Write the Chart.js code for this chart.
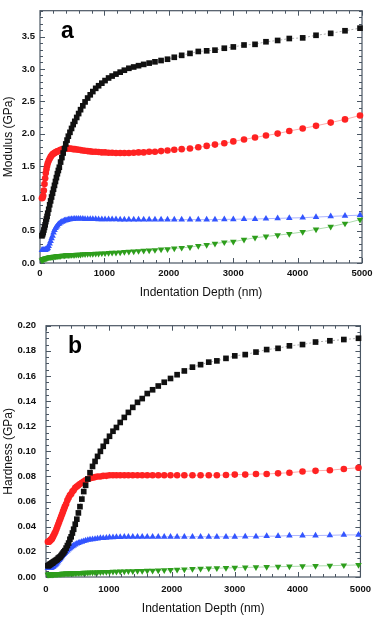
<!DOCTYPE html>
<html>
<head>
<meta charset="utf-8">
<script src="https://cdn.jsdelivr.net/npm/chart.js@4.4.1/dist/chart.umd.min.js"></script>
<style>
  html, body { margin: 0; padding: 0; background: #fff; }
  #wrapA { position: absolute; left: 0; top: 0; width: 378px; height: 310px; }
  #wrapB { position: absolute; left: 0; top: 310px; width: 378px; height: 307px; }
</style>
</head>
<body>
<div id="wrapA"><canvas id="chartA" width="378" height="310"></canvas></div>
<div id="wrapB"><canvas id="chartB" width="378" height="307"></canvas></div>
<script>
// ---- Data ----
const depth = [30,40,50,60,70,80,90,100,110,120,
  135,150,165,180,195,210,225,240,255,270,
  285,300,320,340,360,380,400,420,440,465,
  490,515,540,570,600,630,665,700,740,780,
  820,865,910,960,1010,1065,1120,1180,1245,1310,
  1380,1455,1530,1610,1695,1785,1880,1980,2085,2200,
  2329,2458,2588,2717,2862,3002,3168,3339,3509,3690,
  3871,4079,4286,4514,4736,4969];

const modulusBlack = [0.42,0.44,0.47,0.51,0.55,0.59,0.64,0.68,0.72,0.77,
  0.83,0.90,0.96,1.02,1.08,1.14,1.20,1.26,1.32,1.38,
  1.43,1.48,1.56,1.63,1.70,1.77,1.84,1.90,1.96,2.02,
  2.08,2.14,2.19,2.25,2.31,2.37,2.43,2.49,2.55,2.60,
  2.65,2.70,2.74,2.78,2.82,2.86,2.89,2.92,2.95,2.98,
  3.01,3.03,3.05,3.07,3.09,3.11,3.13,3.15,3.18,3.21,
  3.24,3.27,3.28,3.29,3.32,3.34,3.37,3.38,3.42,3.44,
  3.47,3.48,3.52,3.55,3.59,3.63];

const modulusRed = [1.00,1.01,1.04,1.12,1.22,1.31,1.39,1.45,1.50,1.54,
  1.58,1.61,1.64,1.66,1.68,1.69,1.70,1.71,1.72,1.725,
  1.73,1.74,1.75,1.755,1.76,1.765,1.77,1.77,1.77,1.77,
  1.765,1.76,1.76,1.755,1.75,1.745,1.74,1.735,1.73,1.725,
  1.72,1.72,1.715,1.71,1.71,1.705,1.705,1.70,1.70,1.70,
  1.70,1.705,1.71,1.71,1.72,1.72,1.73,1.74,1.75,1.76,
  1.77,1.79,1.81,1.83,1.85,1.88,1.91,1.94,1.97,2.00,
  2.04,2.08,2.12,2.17,2.22,2.28];

const modulusBlue = [0.20,0.20,0.20,0.20,0.20,0.20,0.21,0.21,0.22,0.23,
  0.26,0.30,0.34,0.38,0.42,0.47,0.51,0.54,0.56,0.58,
  0.60,0.61,0.625,0.635,0.645,0.655,0.66,0.665,0.67,0.675,
  0.68,0.68,0.685,0.685,0.685,0.685,0.685,0.68,0.68,0.68,
  0.68,0.68,0.675,0.675,0.675,0.675,0.675,0.675,0.67,0.67,
  0.67,0.67,0.67,0.67,0.67,0.67,0.67,0.67,0.67,0.67,
  0.67,0.67,0.67,0.67,0.675,0.675,0.68,0.68,0.685,0.69,
  0.695,0.70,0.71,0.72,0.73,0.74];

const modulusGreen = [0.04,0.05,0.055,0.06,0.065,0.07,0.07,0.075,0.08,0.08,
  0.085,0.09,0.09,0.095,0.095,0.10,0.10,0.10,0.105,0.105,
  0.11,0.11,0.11,0.115,0.115,0.115,0.12,0.12,0.12,0.12,
  0.125,0.125,0.125,0.13,0.13,0.13,0.135,0.135,0.14,0.14,
  0.14,0.145,0.145,0.15,0.15,0.155,0.16,0.16,0.165,0.17,
  0.175,0.18,0.185,0.19,0.195,0.20,0.21,0.215,0.225,0.235,
  0.245,0.265,0.28,0.30,0.32,0.33,0.36,0.39,0.41,0.43,
  0.45,0.48,0.52,0.56,0.61,0.67];

const hardnessBlack = [0.009,0.009,0.0095,0.010,0.010,0.0105,0.011,0.011,0.0115,0.012,
  0.0125,0.013,0.0135,0.014,0.015,0.0155,0.016,0.017,0.018,0.019,
  0.020,0.021,0.023,0.025,0.027,0.030,0.032,0.035,0.038,0.042,
  0.046,0.051,0.056,0.062,0.068,0.073,0.078,0.083,0.088,0.092,
  0.096,0.100,0.104,0.108,0.112,0.116,0.119,0.123,0.127,0.131,
  0.135,0.139,0.142,0.146,0.149,0.152,0.155,0.158,0.161,0.164,
  0.167,0.169,0.171,0.172,0.174,0.176,0.177,0.179,0.181,0.182,
  0.184,0.185,0.187,0.188,0.189,0.190];

const hardnessRed = [0.028,0.028,0.028,0.029,0.029,0.030,0.030,0.031,0.032,0.033,
  0.0345,0.036,0.038,0.040,0.042,0.044,0.046,0.048,0.050,0.052,
  0.054,0.056,0.058,0.061,0.063,0.065,0.066,0.068,0.069,0.071,
  0.072,0.073,0.074,0.075,0.076,0.077,0.078,0.0785,0.079,0.0795,
  0.080,0.080,0.0805,0.0805,0.081,0.081,0.081,0.081,0.081,0.081,
  0.081,0.081,0.081,0.081,0.081,0.081,0.081,0.081,0.081,0.081,
  0.081,0.081,0.081,0.081,0.0812,0.0815,0.0815,0.082,0.082,0.0825,
  0.083,0.084,0.0845,0.085,0.086,0.087];

const hardnessBlue = [0.007,0.007,0.007,0.007,0.007,0.0072,0.0075,0.0078,0.008,0.0085,
  0.009,0.0097,0.0105,0.0115,0.0125,0.0135,0.0145,0.0155,0.0165,0.0175,
  0.0183,0.019,0.020,0.021,0.022,0.0228,0.0235,0.0243,0.025,0.0258,
  0.0265,0.027,0.0275,0.028,0.0285,0.029,0.0295,0.0298,0.030,0.0303,
  0.0306,0.031,0.031,0.0312,0.0315,0.0315,0.0317,0.0318,0.032,0.032,
  0.032,0.032,0.032,0.032,0.032,0.032,0.032,0.032,0.032,0.032,
  0.032,0.032,0.032,0.032,0.032,0.032,0.0322,0.0322,0.0325,0.0325,
  0.033,0.033,0.033,0.0332,0.0335,0.0335];

const hardnessGreen = [0.0018,0.0018,0.002,0.002,0.002,0.002,0.002,0.002,0.0021,0.0021,
  0.0022,0.0022,0.0023,0.0023,0.0024,0.0024,0.0025,0.0025,0.0026,0.0026,
  0.0027,0.0027,0.0028,0.0028,0.0029,0.0029,0.003,0.003,0.0031,0.0031,
  0.0032,0.0032,0.0033,0.0033,0.0034,0.0035,0.0035,0.0036,0.0037,0.0037,
  0.0038,0.0039,0.004,0.004,0.0041,0.0042,0.0043,0.0044,0.0045,0.0046,
  0.0047,0.0048,0.0049,0.005,0.0051,0.0053,0.0055,0.0057,0.0059,0.0061,
  0.0064,0.0066,0.0068,0.007,0.0072,0.0074,0.0076,0.0078,0.008,0.0082,
  0.0084,0.0086,0.0088,0.009,0.0093,0.0096];

const xTicks = [0,1000,2000,3000,4000,5000];
const modulusTicks = [0,0.5,1.0,1.5,2.0,2.5,3.0,3.5];
const hardnessTicks = [0,0.02,0.04,0.06,0.08,0.10,0.12,0.14,0.16,0.18,0.20];

// ---- helpers ----
const FONT = '"Liberation Sans", Arial, Helvetica, sans-serif';
const pts = (ys) => depth.map((x, i) => ({ x: x, y: ys[i] }));

function series(ys, style, color, lineColor, order, radius, rotation, dash) {
  return {
    data: pts(ys),
    showLine: true,
    borderColor: lineColor,
    borderWidth: 1,
    borderDash: dash || [],
    pointStyle: style,
    pointRotation: rotation || 0,
    pointRadius: radius,
    pointBackgroundColor: color,
    pointBorderColor: color,
    pointBorderWidth: 0,
    order: order,
    clip: false
  };
}

const framePlugin = {
  id: 'frame',
  beforeDatasetsDraw(chart, args, o) {
    const { ctx, chartArea: a, scales: { x, y } } = chart;
    ctx.save();
    ctx.strokeStyle = '#4a5663';
    ctx.lineWidth = 1.2;
    ctx.strokeRect(a.left, a.top, a.right - a.left, a.bottom - a.top);
    ctx.lineWidth = 1;
    const tickX = (v, len) => {
      const px = Math.round(x.getPixelForValue(v)) + 0.5;
      ctx.beginPath();
      ctx.moveTo(px, a.bottom); ctx.lineTo(px, a.bottom - len);
      ctx.moveTo(px, a.top); ctx.lineTo(px, a.top + len);
      ctx.stroke();
    };
    const tickY = (v, len) => {
      const py = Math.round(y.getPixelForValue(v)) + 0.5;
      ctx.beginPath();
      ctx.moveTo(a.left, py); ctx.lineTo(a.left + len, py);
      ctx.moveTo(a.right, py); ctx.lineTo(a.right - len, py);
      ctx.stroke();
    };
    const nx = Math.round(x.max / o.xMinor);
    for (let i = 0; i <= nx; i++) {
      const v = i * o.xMinor;
      tickX(v, (i % o.xEvery === 0) ? 5 : 3);
    }
    const ny = Math.floor(y.max / o.yMinor + 1e-6);
    for (let i = 0; i <= ny; i++) {
      const v = i * o.yMinor;
      tickY(v, (i % o.yEvery === 0) ? 5 : 3);
    }
    ctx.fillStyle = '#000';
    ctx.font = 'bold 23px ' + FONT;
    ctx.textBaseline = 'alphabetic';
    ctx.textAlign = 'left';
    ctx.fillText(o.letter, o.lx, o.ly);
    ctx.restore();
  }
};

function makeChart(id, cfg) {
  return new Chart(document.getElementById(id), {
    type: 'scatter',
    data: { datasets: cfg.datasets },
    plugins: [framePlugin],
    options: {
      responsive: false,
      animation: false,
      events: [],
      layout: { padding: cfg.padding },
      plugins: {
        legend: { display: false },
        tooltip: { enabled: false },
        frame: cfg.frame
      },
      scales: {
        x: {
          type: 'linear', min: 0, max: 5000,
          grid: { display: false, drawTicks: false },
          border: { display: false },
          afterBuildTicks: (s) => { s.ticks = xTicks.map(v => ({ value: v })); },
          afterFit: (s) => { s.height = cfg.xHeight; },
          ticks: {
            autoSkip: false, maxRotation: 0, padding: cfg.xPad, color: '#111',
            font: { family: FONT, size: 9.5, weight: 'bold' },
            callback: (v) => String(v)
          },
          title: {
            display: true, text: 'Indentation Depth (nm)', color: '#111',
            font: { family: FONT, size: 12 },
            padding: { top: 0, bottom: cfg.titlePadB }
          }
        },
        y: {
          type: 'linear', min: 0, max: cfg.yMax,
          grid: { display: false, drawTicks: false },
          border: { display: false },
          afterBuildTicks: (s) => { s.ticks = cfg.yTicks.map(v => ({ value: v })); },
          afterFit: (s) => { s.width = cfg.yWidth; },
          ticks: {
            autoSkip: false, padding: cfg.yPad, color: '#111',
            font: { family: FONT, size: 9.5, weight: 'bold' },
            callback: (v) => v.toFixed(cfg.dec)
          },
          title: {
            display: true, text: cfg.yTitle, color: '#111',
            font: { family: FONT, size: 12 },
            padding: { top: 1, bottom: 0 }
          }
        }
      }
    }
  });
}

makeChart('chartA', {
  padding: { left: 0, right: 16, top: 3, bottom: 0 },
  xHeight: 47, xPad: 5, titlePadB: 10,
  yMax: 3.9, yTicks: modulusTicks, yWidth: 40, yPad: 5, dec: 1,
  yTitle: 'Modulus (GPa)',
  frame: { xMinor: 200, xEvery: 5, yMinor: 0.1, yEvery: 5, letter: 'a', lx: 61, ly: 38 },
  datasets: [
    series(modulusBlack, 'rect', '#111111', 'rgba(140,140,140,0.7)', 0, 4, 0, [2, 2]),
    series(modulusRed, 'circle', '#ff2222', 'rgba(255,150,150,0.8)', 1, 3.3, 0),
    series(modulusBlue, 'triangle', '#3355ff', 'rgba(150,160,255,0.8)', 2, 3.8, 0),
    series(modulusGreen, 'triangle', '#2e9e1c', 'rgba(150,210,150,0.8)', 3, 3.8, 180)
  ]
});

makeChart('chartB', {
  padding: { left: 0, right: 15, top: 11, bottom: 0 },
  xHeight: 40, xPad: 7, titlePadB: 1,
  yMax: 0.20, yTicks: hardnessTicks, yWidth: 46, yPad: 10, dec: 2,
  yTitle: 'Hardness (GPa)',
  frame: { xMinor: 200, xEvery: 5, yMinor: 0.005, yEvery: 4, letter: 'b', lx: 68, ly: 43 },
  datasets: [
    series(hardnessBlack, 'rect', '#111111', 'rgba(140,140,140,0.7)', 0, 4, 0, [2, 2]),
    series(hardnessRed, 'circle', '#ff2222', 'rgba(255,150,150,0.8)', 1, 3.3, 0),
    series(hardnessBlue, 'triangle', '#3355ff', 'rgba(150,160,255,0.8)', 2, 3.8, 0),
    series(hardnessGreen, 'triangle', '#2e9e1c', 'rgba(150,210,150,0.8)', 3, 3.8, 180)
  ]
});
</script>
</body>
</html>
